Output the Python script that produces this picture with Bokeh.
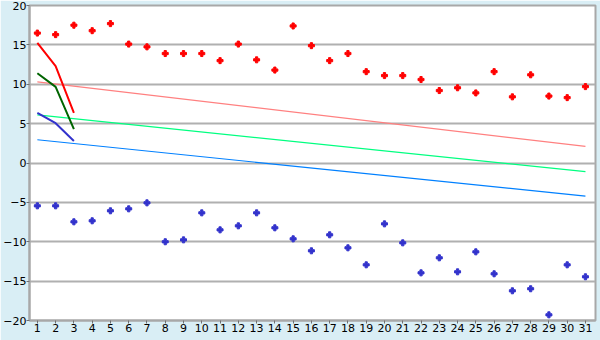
from bokeh.plotting import figure
from bokeh.models import FixedTicker, Range1d
from bokeh.embed import file_html
from bokeh.resources import INLINE

days = list(range(1, 32))
max_points = [16.5, 16.3, 17.5, 16.8, 17.7, 15.1, 14.75, 13.9, 13.9, 13.9,
              13.0, 15.1, 13.1, 11.8, 17.4, 14.9, 13.0, 13.9, 11.6, 11.1,
              11.1, 10.6, 9.2, 9.55, 8.9, 11.6, 8.4, 11.2, 8.5, 8.3, 9.7]
min_points = [-5.44, -5.44, -7.47, -7.34, -6.07, -5.82, -5.06, -10.0, -9.76, -6.33,
              -8.49, -7.98, -6.33, -8.23, -9.63, -11.15, -9.12, -10.77, -12.93, -7.73,
              -10.14, -13.95, -12.04, -13.82, -11.28, -14.07, -16.23, -15.97, -19.28, -12.93, -14.45]

trend_days = [1, 31]
max_trend = [10.3, 2.1]
mean_trend = [6.1, -1.1]
min_trend = [2.95, -4.2]

short_days = [1, 2, 3]
short_max = [15.26, 12.3, 6.37]
short_mean = [11.4, 9.67, 4.3]
short_min = [6.37, 5.05, 2.8]

y_ticks = [-20, -15, -10, -5, 0, 5, 10, 15, 20]

p = figure(width=600, height=340, output_backend="svg", toolbar_location=None,
           x_range=Range1d(0.57, 31.55), y_range=Range1d(-20, 20),
           min_border_left=27, min_border_right=5, min_border_top=5, min_border_bottom=20,
           background_fill_color="white", border_fill_color="#D9EEF5")

p.outline_line_color = "#A8A8A8"
p.outline_line_width = 2

p.xgrid.grid_line_color = None
p.ygrid.grid_line_color = "#B0B0B0"
p.ygrid.grid_line_width = 2
p.ygrid.ticker = FixedTicker(ticks=y_ticks)

p.xaxis.ticker = FixedTicker(ticks=days)
p.yaxis.ticker = FixedTicker(ticks=y_ticks)
for ax in (p.xaxis[0], p.yaxis[0]):
    ax.axis_line_color = "#A8A8A8"
    ax.axis_line_width = 2
    ax.major_tick_line_color = "#707070"
    ax.major_tick_out = 3
    ax.major_tick_in = 0
    ax.minor_tick_line_color = None
    ax.major_label_text_font = "DejaVu Sans"
    ax.major_label_text_font_size = "11px"
    ax.major_label_text_color = "black"
    ax.major_label_standoff = 0

p.line(trend_days, max_trend, line_color="#FF8080", line_width=1.2)
p.line(trend_days, mean_trend, line_color="#00FF80", line_width=1.2)
p.line(trend_days, min_trend, line_color="#0080FF", line_width=1.2)

p.line(short_days, short_max, line_color="#FF0000", line_width=2)
p.line(short_days, short_mean, line_color="#006400", line_width=2)
p.line(short_days, short_min, line_color="#3333CC", line_width=2)

p.scatter(days, max_points, marker="plus", size=6, color="#FF0000")
p.scatter(days, min_points, marker="plus", size=6, color="#3333CC")

open("out.html", "w").write(file_html(p, INLINE))
